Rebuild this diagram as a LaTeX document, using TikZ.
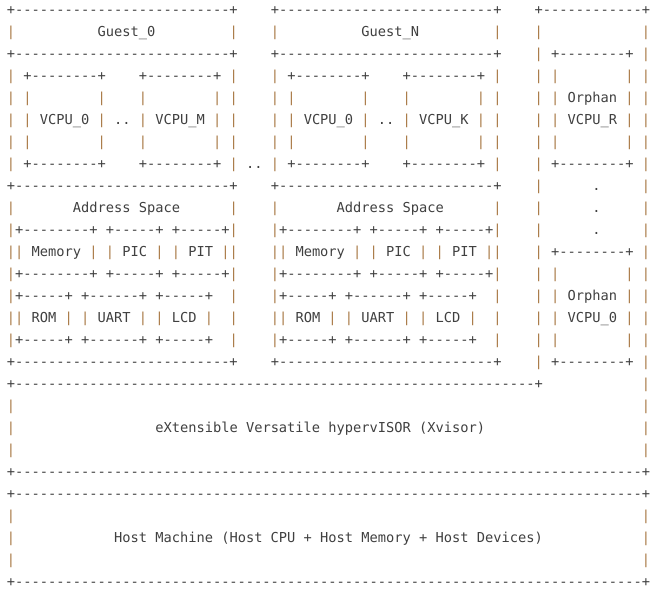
\documentclass[tikz,border=0pt]{standalone}
\usepackage{fontspec}
\setmonofont{DejaVu Sans Mono}
\definecolor{ink}{HTML}{404040}
\definecolor{pipe}{HTML}{A87843}
\tikzstyle{ascii} = [inner sep=0pt, anchor=mid west, text=ink,
    font=\ttfamily\fontsize{10.273}{12}\selectfont]
\tikzstyle{bar} = [ascii, text=pipe]
\newcommand{\asciiline}[1]{+\foreach \k in {1,...,#1}{-}+}
\newcommand{\asciibox}[5]{%
    \node[ascii] (#1-top) at (#2-0.5,#3) {\asciiline{#4}};
    \node[ascii] (#1-bot) at (#2-0.5,#3+#5+1) {\asciiline{#4}};
    \foreach \r in {1,...,#5}{
        \node[bar] (#1-l\r) at (#2-0.5,#3+\r) {|};
        \node[bar] (#1-r\r) at (#2+#4+0.5,#3+\r) {|};
    }}

\begin{document}
\begin{tikzpicture}[x=6.185pt, y=-16.5pt]
    \path[fill=white, use as bounding box] (-1.297,-0.532) rectangle (79.09,26.877);
    % guests
    \foreach \g/\gname/\last in {0/0/M,32/N/K}{
        \foreach \r in {0,2,8,16}
            \node[ascii] (g\gname-e\r) at (\g-0.5,\r) {\asciiline{26}};
        \foreach \r in {1,3,4,5,6,7,9,10,11,12,13,14,15}{
            \node[bar] (g\gname-l\r) at (\g-0.5,\r) {|};
            \node[bar] (g\gname-r\r) at (\g+26.5,\r) {|};
        }
        \node[ascii] (guest\gname) at (\g+10.5,1) {Guest\_\gname};
        \asciibox{vcpuA-\gname}{\g+2}{3}{8}{3}
        \asciibox{vcpuB-\gname}{\g+16}{3}{8}{3}
        \node[ascii] (vcpu0-\gname) at (\g+3.5,5) {VCPU\_0};
        \node[ascii] (dots-\gname) at (\g+12.5,5) {..};
        \node[ascii] (vcpu\last-\gname) at (\g+17.5,5) {VCPU\_\last};
        \node[ascii] (space-\gname) at (\g+7.5,9) {Address Space};
        \asciibox{memb-\gname}{\g+1}{10}{8}{1}
        \asciibox{picb-\gname}{\g+12}{10}{5}{1}
        \asciibox{pitb-\gname}{\g+20}{10}{5}{1}
        \asciibox{romb-\gname}{\g+1}{13}{5}{1}
        \asciibox{uartb-\gname}{\g+9}{13}{6}{1}
        \asciibox{lcdb-\gname}{\g+18}{13}{5}{1}
        \node[ascii] (mem-\gname) at (\g+2.5,11) {Memory};
        \node[ascii] (pic-\gname) at (\g+13.5,11) {PIC};
        \node[ascii] (pit-\gname) at (\g+21.5,11) {PIT};
        \node[ascii] (rom-\gname) at (\g+2.5,14) {ROM};
        \node[ascii] (uart-\gname) at (\g+10.5,14) {UART};
        \node[ascii] (lcd-\gname) at (\g+19.5,14) {LCD};
    }
    \node[ascii] (more) at (28.5,7) {..};
    % orphan vcpus
    \node[ascii] (orph-top) at (63.5,0) {\asciiline{12}};
    \foreach \r in {1,...,16}
        \node[bar] (orph-l\r) at (63.5,\r) {|};
    \foreach \r in {1,...,20}
        \node[bar] (orph-r\r) at (76.5,\r) {|};
    \asciibox{orphR}{66}{2}{8}{4}
    \node[ascii] (orphan1) at (67.5,4) {Orphan};
    \node[ascii] (vcpuR) at (67.5,5) {VCPU\_R};
    \foreach \r in {8,9,10}
        \node[ascii] (dot\r) at (70.5,\r) {.};
    \asciibox{orph0}{66}{11}{8}{4}
    \node[ascii] (orphan2) at (67.5,13) {Orphan};
    \node[ascii] (vcpu0) at (67.5,14) {VCPU\_0};
    % xvisor
    \node[ascii] (xv-top) at (-0.5,17) {\asciiline{63}};
    \foreach \r in {18,19,20}
        \node[bar] (xv-l\r) at (-0.5,\r) {|};
    \node[ascii] (xv-bot) at (-0.5,21) {\asciiline{76}};
    \node[ascii] (xvisor) at (17.5,19) {eXtensible Versatile hypervISOR (Xvisor)};
    % host
    \asciibox{hostb}{0}{22}{76}{3}
    \node[ascii] (host) at (12.5,24) {Host Machine (Host CPU + Host Memory + Host Devices)};
\end{tikzpicture}
\end{document}
